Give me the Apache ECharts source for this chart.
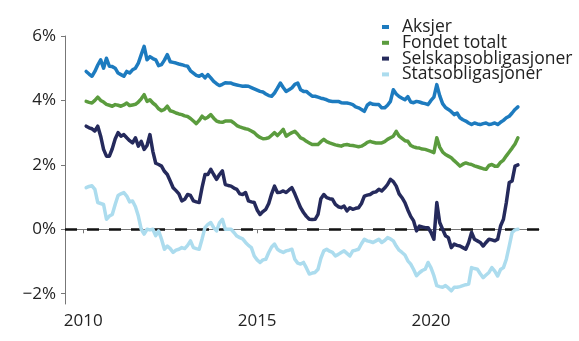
<!DOCTYPE html>
<html>
<head>
<meta charset="utf-8">
<script src="https://cdn.jsdelivr.net/npm/echarts@6/dist/echarts.min.js"></script>
<style>
html,body{margin:0;padding:0;background:#fff;}
#chart{width:579px;height:341px;}
</style>
</head>
<body>
<div id="chart"></div>
<script>
// Monthly observations, first point = February 2010
const firstYear = 2010;
const firstMonth = 2;

const seriesNames = ['Aksjer', 'Fondet totalt', 'Selskapsobligasjoner', 'Statsobligasjoner'];

const aksjer = [
4.90,4.82,4.75,4.90,5.10,5.26,5.00,5.31,5.06,5.05,
5.00,4.85,4.80,4.75,4.90,4.85,4.95,5.00,5.16,5.42,
5.68,5.26,5.36,5.30,5.26,5.08,5.11,5.25,5.42,5.20,
5.18,5.16,5.13,5.11,5.08,5.06,4.92,4.85,4.78,4.75,
4.80,4.70,4.80,4.70,4.59,4.52,4.46,4.50,4.55,4.54,
4.54,4.50,4.48,4.46,4.44,4.45,4.44,4.40,4.36,4.32,
4.28,4.26,4.20,4.15,4.13,4.23,4.38,4.54,4.40,4.28,
4.33,4.39,4.50,4.54,4.33,4.28,4.28,4.20,4.13,4.13,
4.10,4.07,4.05,4.02,3.98,3.97,3.97,3.97,3.93,3.92,
3.92,3.90,3.87,3.80,3.77,3.72,3.66,3.85,3.92,3.88,
3.87,3.87,3.77,3.77,3.85,3.97,4.33,4.20,4.12,4.07,
4.02,4.12,3.95,3.93,3.97,3.95,3.92,3.90,3.87,4.00,
4.10,4.49,4.15,3.90,3.78,3.72,3.65,3.56,3.61,3.46,
3.40,3.36,3.30,3.25,3.30,3.27,3.25,3.28,3.30,3.25,
3.27,3.30,3.25,3.32,3.38,3.46,3.51,3.61,3.72,3.80
];

const fondetTotalt = [
3.97,3.94,3.92,4.00,4.10,4.00,3.95,3.88,3.85,3.82,
3.87,3.85,3.82,3.86,3.92,3.84,3.86,3.88,3.95,4.05,
4.18,3.97,4.02,3.92,3.85,3.74,3.68,3.72,3.82,3.68,
3.65,3.61,3.58,3.56,3.52,3.50,3.44,3.36,3.28,3.38,
3.51,3.43,3.48,3.56,3.45,3.36,3.33,3.32,3.36,3.36,
3.36,3.30,3.22,3.18,3.15,3.12,3.10,3.05,3.00,2.91,
2.85,2.81,2.82,2.84,2.92,3.00,2.91,3.00,3.10,2.89,
2.95,3.00,3.04,2.95,2.84,2.80,2.73,2.68,2.63,2.63,
2.63,2.72,2.79,2.72,2.68,2.65,2.62,2.60,2.58,2.62,
2.63,2.61,2.60,2.58,2.56,2.58,2.63,2.70,2.73,2.70,
2.68,2.68,2.68,2.72,2.79,2.84,2.89,3.04,2.89,2.82,
2.75,2.73,2.60,2.56,2.53,2.52,2.49,2.48,2.45,2.42,
2.38,2.84,2.55,2.40,2.32,2.27,2.22,2.13,2.05,1.96,
2.02,2.06,2.03,2.01,1.97,1.94,1.91,1.88,1.86,1.98,
2.01,1.96,1.96,2.08,2.15,2.28,2.40,2.52,2.65,2.84
];

const selskapsobligasjoner = [
3.20,3.15,3.12,3.05,3.20,2.89,2.48,2.27,2.27,2.50,
2.80,3.00,2.89,2.94,2.84,2.75,2.68,2.84,2.58,2.73,
2.48,2.60,2.94,2.42,2.05,2.01,1.96,1.80,1.70,1.50,
1.29,1.20,1.10,0.88,0.93,1.08,1.05,0.88,0.85,0.83,
1.30,1.70,1.70,1.86,1.70,1.55,1.70,1.81,1.39,1.36,
1.34,1.28,1.24,1.10,1.08,1.14,0.88,0.85,0.83,0.60,
0.46,0.55,0.62,0.80,1.10,1.34,1.14,1.15,1.19,1.14,
1.22,1.29,1.10,0.88,0.67,0.52,0.40,0.31,0.30,0.31,
0.46,0.95,1.08,0.98,0.95,0.93,0.77,0.70,0.67,0.72,
0.57,0.67,0.62,0.65,0.67,0.80,1.03,1.06,1.08,1.14,
1.16,1.24,1.19,1.28,1.39,1.55,1.48,1.34,1.10,0.98,
0.83,0.60,0.40,0.26,-0.05,0.10,0.07,0.05,0.05,-0.10,
-0.31,0.83,0.21,0.00,-0.20,-0.26,-0.57,-0.46,-0.50,-0.52,
-0.57,-0.62,-0.41,-0.10,-0.31,-0.36,-0.41,-0.52,-0.41,-0.31,
-0.33,-0.36,-0.31,0.10,0.31,0.83,1.45,1.50,1.96,2.00
];

const statsobligasjoner = [
1.29,1.33,1.35,1.24,0.83,0.80,0.77,0.31,0.41,0.46,
0.77,1.05,1.10,1.14,1.03,0.85,0.88,0.70,0.41,0.00,
-0.15,0.00,-0.02,0.00,-0.20,-0.05,-0.31,-0.62,-0.52,-0.60,
-0.72,-0.65,-0.62,-0.57,-0.60,-0.50,-0.36,-0.57,-0.60,-0.62,
-0.30,0.05,0.15,0.21,0.05,-0.05,0.20,0.31,0.00,0.00,
0.00,-0.10,-0.21,-0.26,-0.30,-0.41,-0.50,-0.57,-0.83,-0.95,
-1.03,-0.95,-0.93,-0.72,-0.55,-0.46,-0.62,-0.68,-0.72,-0.67,
-0.65,-0.62,-0.93,-1.05,-1.08,-1.03,-1.20,-1.39,-1.36,-1.34,
-1.24,-0.90,-0.67,-0.62,-0.68,-0.72,-0.83,-0.78,-0.72,-0.67,
-0.75,-0.83,-0.67,-0.65,-0.62,-0.45,-0.31,-0.36,-0.38,-0.41,
-0.36,-0.31,-0.41,-0.35,-0.26,-0.30,-0.36,-0.52,-0.65,-0.72,
-0.80,-0.98,-1.08,-1.25,-1.44,-1.35,-1.28,-1.24,-1.03,-1.20,
-1.44,-1.75,-1.78,-1.80,-1.75,-1.82,-1.91,-1.80,-1.80,-1.78,
-1.75,-1.72,-1.70,-1.19,-1.22,-1.24,-1.38,-1.50,-1.42,-1.34,
-1.19,-1.30,-1.45,-1.25,-1.19,-0.93,-0.52,-0.10,-0.02,0.00
];

const xTicks = [2010, 2015, 2020];
const yTicks = [-2, 0, 2, 4, 6];

const colors = ['#1d7bbf', '#5b9c3e', '#252a5c', '#acdcee'];
const valuesList = [aksjer, fondetTotalt, selskapsobligasjoner, statsobligasjoner];

function toPairs(vals) {
  return vals.map((v, i) => [firstYear + (firstMonth - 1 + i) / 12, v]);
}

const FONT = '"Open Sans", sans-serif';
const chart = echarts.init(document.getElementById('chart'), null, {renderer: 'canvas'});

const series = valuesList.map((vals, k) => ({
  name: seriesNames[k],
  type: 'line',
  data: toPairs(vals),
  showSymbol: false,
  symbol: 'none',
  z: 10 - k,
  lineStyle: {color: colors[k], width: 3.5, join: 'round', cap: 'round'},
  itemStyle: {color: colors[k]},
  emphasis: {disabled: true}
}));

series.push({
  name: 'zero',
  type: 'line',
  data: [],
  z: 20,
  markLine: {
    silent: true,
    symbol: 'none',
    label: {show: false},
    lineStyle: {color: '#111', width: 2.5, type: [12, 10], cap: 'butt'},
    data: [{yAxis: 0}]
  }
});

chart.setOption({
  animation: false,
  backgroundColor: '#fff',
  grid: {left: 65, right: 40, top: 36, bottom: 37, containLabel: false},
  legend: {
    data: seriesNames,
    orient: 'vertical',
    left: 377,
    top: 13,
    itemWidth: 7,
    itemHeight: 4,
    itemGap: -2.2,
    icon: 'rect',
    selectedMode: false,
    textStyle: {fontFamily: FONT, fontSize: 17.5, color: '#222', lineHeight: 16, padding: [0, 0, 0, 8]}
  },
  xAxis: {
    type: 'value',
    min: 2009.474,
    max: 2023.106,
    splitLine: {show: false},
    axisLine: {show: true, lineStyle: {color: '#777', width: 1}},
    axisTick: {show: true, customValues: xTicks, length: 4, lineStyle: {color: '#777'}},
    axisLabel: {customValues: xTicks, formatter: v => String(Math.round(v)), fontFamily: FONT, fontSize: 17, color: '#222', margin: 9}
  },
  yAxis: {
    type: 'value',
    min: -2.32,
    max: 6,
    splitLine: {show: false},
    axisLine: {show: true, lineStyle: {color: '#777', width: 1}},
    axisTick: {show: true, customValues: yTicks, length: 4, lineStyle: {color: '#777'}},
    axisLabel: {customValues: yTicks, formatter: v => (v < 0 ? '\u2212' + Math.abs(v) : String(v)) + '%', fontFamily: FONT, fontSize: 17, color: '#222', margin: 9}
  },
  series: series
});
</script>
</body>
</html>
